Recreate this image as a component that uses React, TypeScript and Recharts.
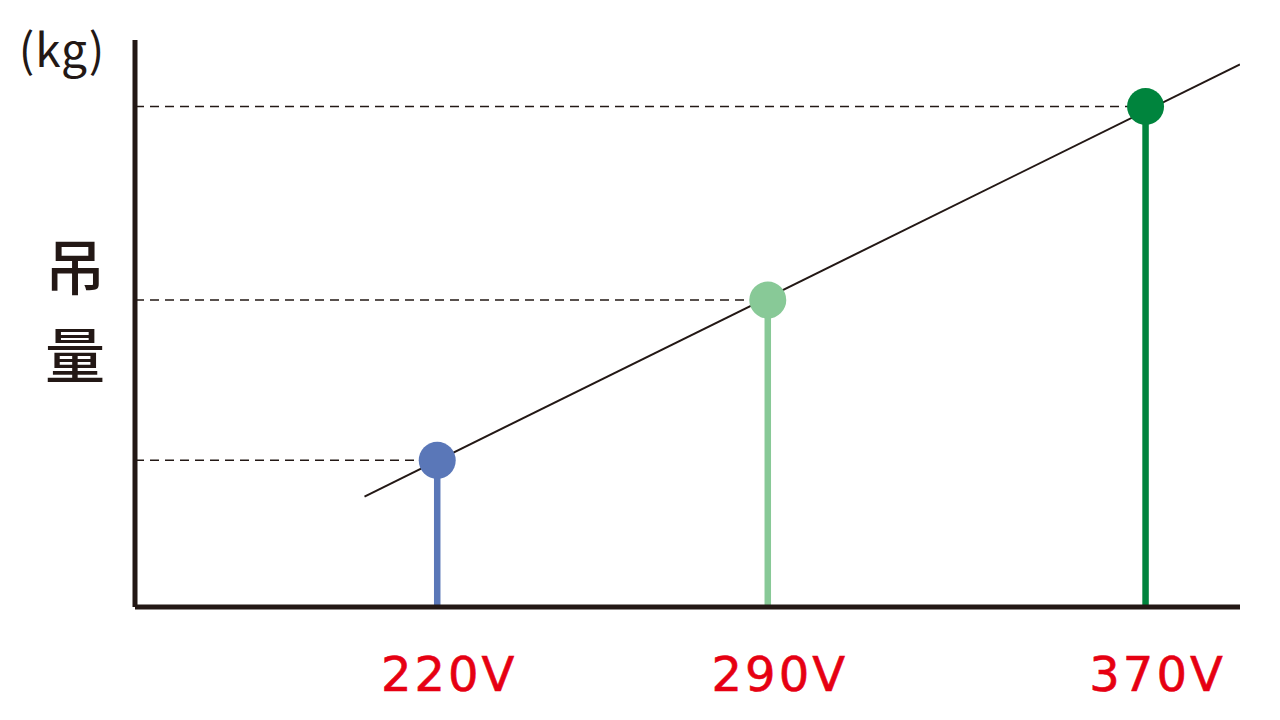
import React from "react";
import {
  ComposedChart,
  XAxis,
  YAxis,
  Line,
  Scatter,
  Cell,
  ReferenceLine,
} from "recharts";

// voltages on the x axis, hoist load (kg, unscaled) on the y axis
const voltages = [220, 290, 370];
const loads = [1.5, 3.14, 5.12];
const pointColors = ["#5a77b8", "#88c997", "#00843d"];
const tickLabels = ["220V", "290V", "370V"];

// straight trend line, read from its two visible ends
const trendX = [204.6, 390];
const trendY = [1.13, 5.55];

const xDomain = [156, 390];
const yDomain = [0, 5.8];

const INK = "#231815";
const RED = "#e60012";

const points = voltages.map((v, i) => ({ v, load: loads[i] }));
const trend = trendX.map((x, i) => ({ v: x, load: trendY[i] }));

const VoltTick = (props: any) => {
  const { x, y, payload } = props;
  const i = voltages.indexOf(payload.value);
  return (
    <text
      x={x + 12}
      y={y + 76}
      textAnchor="middle"
      fill={RED}
      stroke={RED}
      strokeWidth={0.6}
      fontSize={48}
      fontFamily="DejaVu Sans, sans-serif"
      letterSpacing={3}
    >
      {tickLabels[i]}
    </text>
  );
};

const YTitle = () => (
  <g fill={INK} fontFamily="Noto Sans CJK SC, sans-serif">
    <text x={62} y={67} textAnchor="middle" fontSize={46} letterSpacing={1}>
      (kg)
    </text>
    <text x={75} y={290} textAnchor="middle" fontSize={60} fontWeight={500}>
      吊
    </text>
    <text x={75} y={378} textAnchor="middle" fontSize={60} fontWeight={500}>
      量
    </text>
  </g>
);

const Dot = (props: any) => {
  const { cx, cy, fill } = props;
  return <circle cx={cx} cy={cy} r={18.5} fill={fill} />;
};

export default function App() {
  return (
    <div
      style={{
        position: "absolute",
        left: 0,
        top: 0,
        width: 1280,
        height: 720,
        background: "#fff",
      }}
    >
      <ComposedChart
        width={1280}
        height={720}
        margin={{ top: 40, right: 40, left: 0, bottom: 0 }}
      >
        <XAxis
          type="number"
          dataKey="v"
          domain={xDomain}
          allowDataOverflow
          height={113}
          ticks={voltages}
          tick={<VoltTick />}
          tickLine={false}
          axisLine={{ stroke: INK, strokeWidth: 5 }}
        />
        <YAxis
          type="number"
          dataKey="load"
          domain={yDomain}
          allowDataOverflow
          width={135}
          tick={false}
          tickLine={false}
          axisLine={{ stroke: INK, strokeWidth: 5 }}
          label={<YTitle />}
        />
        {points.map((p) => (
          <ReferenceLine
            key={"d" + p.v}
            segment={[
              { x: xDomain[0], y: p.load },
              { x: p.v, y: p.load },
            ]}
            stroke={INK}
            strokeWidth={1.5}
            strokeDasharray="9 6"
          />
        ))}
        {points.map((p, i) => (
          <ReferenceLine
            key={"s" + p.v}
            segment={[
              { x: p.v, y: 0 },
              { x: p.v, y: p.load },
            ]}
            stroke={pointColors[i]}
            strokeWidth={6.5}
          />
        ))}
        <Line
          data={trend}
          dataKey="load"
          stroke={INK}
          strokeWidth={2}
          dot={false}
          activeDot={false}
          isAnimationActive={false}
        />
        <Scatter data={points} shape={<Dot />} isAnimationActive={false}>
          {points.map((p, i) => (
            <Cell key={p.v} fill={pointColors[i]} />
          ))}
        </Scatter>
      </ComposedChart>
    </div>
  );
}
